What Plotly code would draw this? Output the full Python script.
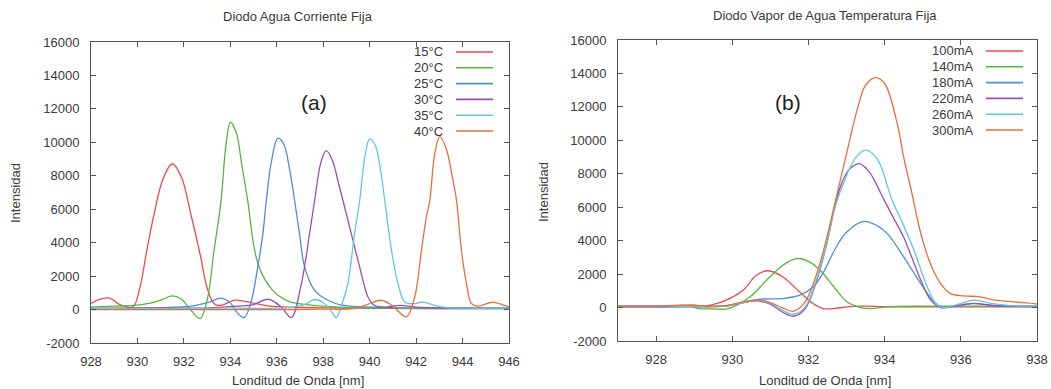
import plotly.graph_objects as go

# ---------------- data: left panel (fixed current, varying temperature) ----------------
temps = ["15°C", "20°C", "25°C", "30°C", "35°C", "40°C"]

t15_x = [928.0, 928.4, 928.8, 929.2, 929.8, 930.1, 930.4, 930.7, 931.1, 931.5, 931.9, 932.3, 932.7,
         933.0, 933.3, 933.6, 934.2, 934.7, 935.1, 935.7, 936.5, 937.5, 938.5, 939.5, 940.5, 942.0, 944.0, 946.0]
t15_y = [360, 620, 680, 330, 150, 1300, 3500, 5600, 7800, 8720, 7900, 5700, 3300,
         1300, 350, 250, 560, 470, 360, 200, 150, 120, 100, 80, 70, 60, 50, 50]

t20_x = [928.0, 929.0, 930.0, 930.6, 931.1, 931.5, 931.9, 932.25, 932.7, 933.0, 933.3, 933.6, 933.8,
         934.0, 934.25, 934.5, 934.75, 935.0, 935.2, 935.6, 936.05, 936.6, 937.3, 938.0, 939.0, 941.0, 943.0, 946.0]
t20_y = [150, 200, 260, 400, 620, 820, 620, 50, -540, 550, 3550, 6500, 9700,
         11200, 10600, 8600, 6500, 3900, 2700, 1550, 850, 450, 300, 200, 120, 80, 60, 50]

t25_x = [928.0, 929.5, 931.0, 932.3, 933.1, 933.6, 934.0, 934.3, 934.6, 934.9, 935.18, 935.4, 935.55,
         935.75, 936.05, 936.3, 936.55, 936.77, 936.98, 937.2, 937.63, 938.2, 938.8, 939.5, 941.0, 943.0, 946.0]
t25_y = [80, 90, 120, 200, 450, 680, 400, -200, -480, 500, 2540, 4530, 6520,
         8700, 10250, 9900, 8400, 6500, 4530, 2540, 1150, 555, 260, 180, 120, 100, 80]

t30_x = [928.0, 931.0, 933.0, 934.3, 935.0, 935.62, 936.19, 936.62, 937.06, 937.41, 937.63, 937.9,
         938.13, 938.4, 938.65, 938.85, 939.21, 939.57, 939.93, 940.2, 940.7, 941.3, 942.0, 943.0, 946.0]
t30_y = [60, 80, 100, 200, 300, 615, 160, -480, 1550, 4530, 6520, 8800,
         9500, 8900, 7600, 6520, 4530, 2540, 750, 250, 150, 250, 150, 100, 80]

t35_x = [928.0, 931.0, 934.0, 936.5, 937.2, 937.63, 938.0, 938.3, 938.56, 938.8, 939.06, 939.35, 939.57,
         939.8, 940.0, 940.25, 940.45, 940.65, 940.94, 941.22, 941.51, 941.9, 942.3, 942.8, 943.4, 944.0, 946.0]
t35_y = [60, 60, 80, 120, 300, 600, 420, 0, -480, 300, 1550, 4530, 6520,
         9200, 10200, 9800, 8500, 6520, 3540, 1550, 450, 350, 450, 250, 100, 80, 80]

t40_x = [928.0, 930.0, 932.0, 934.0, 936.0, 938.0, 939.3, 939.8, 940.5, 941.0, 941.58, 941.94, 942.23,
         942.44, 942.59, 942.8, 943.02, 943.3, 943.55, 943.74, 943.95, 944.17, 944.38, 944.66, 945.0,
         945.32, 945.7, 946.0]
t40_y = [0, 0, 0, 0, 0, 20, 60, 250, 555, 200, -440, 750, 3540,
         5530, 6520, 9300, 10340, 9600, 8000, 6520, 3540, 1550, 360, 200, 330,
         450, 300, 160]

# ---------------- data: right panel (fixed temperature, varying current) ----------------
currents = ["100mA", "140mA", "180mA", "220mA", "260mA", "300mA"]

c100_x = [927.0, 928.0, 928.7, 929.0, 929.3, 929.84, 930.28, 930.63, 930.94, 931.33, 931.77, 932.12, 932.39,
          932.7, 933.1, 933.5, 934.0, 935.0, 936.0, 937.0, 938.0]
c100_y = [80, 80, 130, 140, 100, 440, 1030, 1930, 2200, 1830, 930, 240, -60,
          -50, 60, 80, 50, 40, 40, 40, 40]

c140_x = [927.0, 928.0, 928.8, 929.13, 929.5, 929.9, 930.46, 930.9, 931.33, 931.68, 932.03, 932.35,
          932.67, 933.02, 933.37, 933.63, 934.07, 935.0, 936.0, 937.0, 938.0]
c140_y = [80, 90, 120, -60, -80, -60, 630, 1630, 2530, 2930, 2730, 2130,
          1230, 330, 0, -60, 40, 80, 80, 80, 80]

c180_x = [927.0, 928.0, 929.0, 929.8, 930.3, 930.72, 931.33, 931.77, 932.12, 932.39, 932.7, 933.0,
          933.45, 933.8, 934.07, 934.5, 934.95, 935.3, 935.56, 936.0, 936.35, 936.9, 937.5, 938.0]
c180_y = [80, 80, 80, 100, 300, 500, 540, 740, 1230, 2100, 3500, 4500,
          5150, 4900, 4420, 3030, 1430, 340, 0, 140, 240, 100, 80, 80]

c220_x = [927.0, 928.0, 929.0, 929.8, 930.3, 930.65, 931.0, 931.3, 931.6, 931.9, 932.2, 932.5, 932.67,
          932.85, 933.05, 933.33, 933.6, 933.95, 934.2, 934.5, 934.95, 935.21, 935.47, 935.8, 936.3,
          936.8, 937.3, 938.0]
c220_y = [30, 30, 40, 80, 300, 400, 200, -250, -520, -100, 1500, 4000, 5800,
          7300, 8200, 8610, 8100, 6600, 5500, 4200, 1630, 440, 0, 80, 250,
          150, 80, 50]

c260_x = [927.0, 928.0, 929.0, 929.8, 930.3, 930.65, 931.0, 931.3, 931.6, 931.9, 932.2, 932.5, 932.67,
          933.02, 933.25, 933.5, 933.8, 934.2, 934.5, 934.77, 935.12, 935.38, 935.6, 936.0, 936.35,
          936.8, 937.3, 938.0]
c260_y = [60, 60, 60, 80, 300, 420, 250, -150, -400, 0, 1600, 4000, 5800,
          8000, 9000, 9410, 8900, 6400, 4900, 3430, 1230, 140, 0, 250, 450,
          250, 120, 80]

c300_x = [927.0, 928.0, 928.8, 929.2, 929.8, 930.3, 930.7, 931.0, 931.3, 931.6, 931.9, 932.2, 932.45,
          932.67, 933.02, 933.3, 933.5, 933.76, 934.0, 934.33, 934.5, 934.7, 934.95, 935.2, 935.47,
          935.73, 936.08, 936.5, 936.9, 937.4, 937.93, 938.0]
c300_y = [80, 80, 150, 100, 100, 350, 450, 300, 0, -220, 300, 1900, 3900,
          6000, 9400, 12000, 13300, 13750, 13400, 11000, 9000, 7000, 4430, 2630, 1430,
          830, 700, 640, 440, 340, 240, 220]

# axis ticks
left_xticks = [928, 930, 932, 934, 936, 938, 940, 942, 944, 946]
right_xticks = [928, 930, 932, 934, 936, 938]
yticks = [-2000, 0, 2000, 4000, 6000, 8000, 10000, 12000, 14000, 16000]
ytick_text = ["-2000", "0", "2000", "4000", "6000", "8000", "10000", "12000", "14000", "16000"]

colors = ["#f0484a", "#53b83a", "#4a8fdb", "#9b4eb0", "#5fc8e2", "#e86f3a"]

left_series = [(t15_x, t15_y), (t20_x, t20_y), (t25_x, t25_y),
               (t30_x, t30_y), (t35_x, t35_y), (t40_x, t40_y)]
right_series = [(c100_x, c100_y), (c140_x, c140_y), (c180_x, c180_y),
                (c220_x, c220_y), (c260_x, c260_y), (c300_x, c300_y)]

W, H = 1051, 389
FONT = "Liberation Sans, Arial, sans-serif"
TXT = "#3a3a3a"

fig = go.Figure()
for name, (xs, ys), col in zip(temps, left_series, colors):
    fig.add_trace(go.Scatter(x=xs, y=ys, name=name, mode="lines", xaxis="x", yaxis="y",
                             line=dict(color=col, width=1.3, shape="spline", smoothing=1.0),
                             showlegend=False))
for name, (xs, ys), col in zip(currents, right_series, colors):
    fig.add_trace(go.Scatter(x=xs, y=ys, name=name, mode="lines", xaxis="x2", yaxis="y2",
                             line=dict(color=col, width=1.3, shape="spline", smoothing=1.0),
                             showlegend=False))


def px(x):
    return x / W


def py(y):
    return 1 - y / H


axis_common = dict(showline=True, linecolor="#555555", linewidth=1, mirror="ticks",
                   ticks="inside", ticklen=5, tickcolor="#555555", showgrid=False,
                   zeroline=False, automargin=False,
                   tickfont=dict(family=FONT, size=13, color=TXT))

fig.update_layout(
    width=W, height=H, margin=dict(l=0, r=0, t=0, b=0),
    paper_bgcolor="white", plot_bgcolor="white", showlegend=False,
    font=dict(family=FONT, color=TXT),
    xaxis=dict(domain=[px(91), px(509)], range=[928, 946], tickvals=left_xticks,
               ticktext=[str(v) for v in left_xticks],
               anchor="y", ticklabelstandoff=6, **axis_common),
    yaxis=dict(domain=[py(343), py(42)], range=[-2000, 16000], tickvals=yticks, ticktext=ytick_text,
               anchor="x", ticklabelstandoff=8, **axis_common),
    xaxis2=dict(domain=[px(618), px(1037)], range=[927, 938], tickvals=right_xticks,
                ticktext=[str(v) for v in right_xticks],
                anchor="y2", ticklabelstandoff=6, **axis_common),
    yaxis2=dict(domain=[py(341), py(40)], range=[-2000, 16000], tickvals=yticks, ticktext=ytick_text,
                anchor="x2", ticklabelstandoff=8, **axis_common),
)

ann = []
shapes = []
# titles
ann.append(dict(text="Diodo Agua Corriente Fija", x=px(298), y=py(17)))
ann.append(dict(text="Diodo Vapor de Agua Temperatura Fija", x=px(825), y=py(16)))
# axis titles
ann.append(dict(text="Londitud de Onda [nm]", x=px(298), y=py(380)))
ann.append(dict(text="Londitud de Onda [nm]", x=px(825), y=py(380)))
ann.append(dict(text="Intensidad", x=px(15), y=py(193), textangle=-90))
ann.append(dict(text="Intensidad", x=px(543), y=py(192), textangle=-90))
for a in ann:
    a.update(xref="paper", yref="paper", showarrow=False, xanchor="center", yanchor="middle",
             font=dict(family=FONT, size=13, color=TXT))
# panel labels
ann.append(dict(text="(a)", x=px(299), y=py(89), xref="paper", yref="paper", showarrow=False,
                font=dict(family=FONT, size=21, color="#222222")))
ann.append(dict(text="(b)", x=px(803), y=py(89), xref="paper", yref="paper", showarrow=False,
                font=dict(family=FONT, size=21, color="#222222")))

# manual gnuplot-style legends (text left, line sample right)
legend_specs = [(temps, 445, 456, 493, 52), (currents, 976, 986, 1023, 51)]
for names, text_right, l0, l1, top in legend_specs:
    for i, (name, col) in enumerate(zip(names, colors)):
        yy = top + i * 15.8
        ann.append(dict(text=name, x=px(text_right), y=py(yy), xref="paper", yref="paper",
                        showarrow=False, xanchor="right", yanchor="middle",
                        font=dict(family=FONT, size=13, color=TXT)))
        shapes.append(dict(type="line", xref="paper", yref="paper", x0=px(l0), x1=px(l1),
                           y0=py(yy), y1=py(yy), line=dict(color=col, width=1.6)))

fig.update_layout(annotations=ann, shapes=shapes)
fig.write_html("out.html")
